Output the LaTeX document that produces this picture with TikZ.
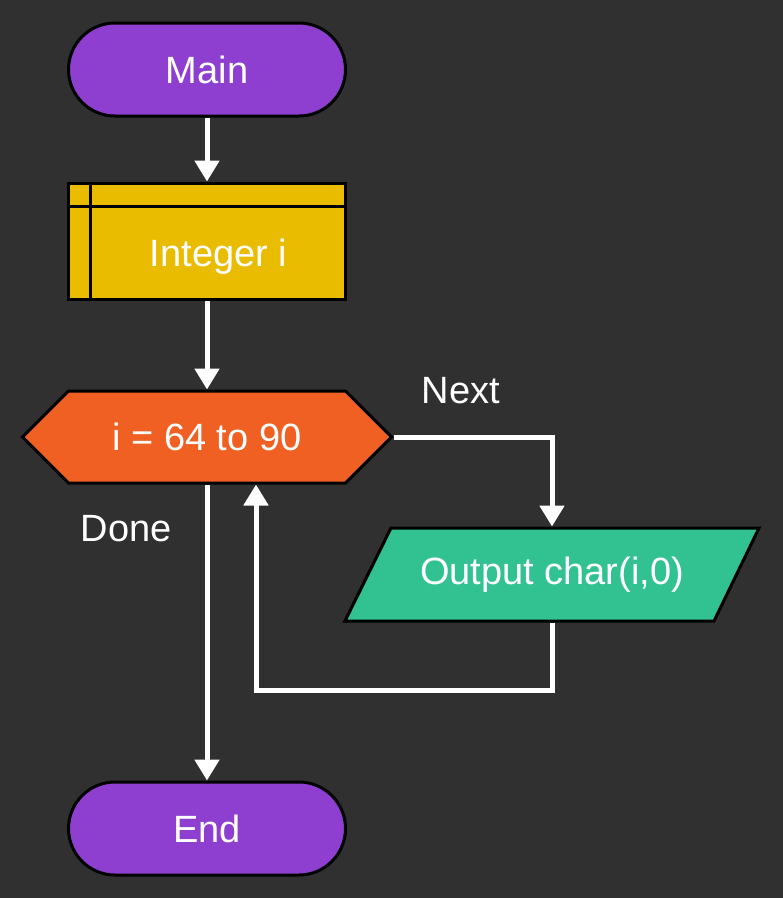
\documentclass[tikz,border=0pt]{standalone}
\usepackage{fontspec}
\setmainfont{Liberation Sans}
\usetikzlibrary{positioning, arrows.meta, shapes.misc, shapes.symbols, backgrounds}
\definecolor{bgcol}{HTML}{303030}
\definecolor{termcol}{HTML}{8E3FD0}
\definecolor{declcol}{HTML}{E9BC00}
\definecolor{loopcol}{HTML}{F06022}
\definecolor{outcol}{HTML}{32C191}
\tikzset{x=1pt, y=-1pt, % one unit is one pixel, y runs down
flow/.style={-{Triangle[length=21pt,width=24pt]}, draw=white, line width=5pt}, % white connectors
txt/.style={text=white, font=\fontsize{38}{46}\selectfont}, % all labels
box/.style={txt, draw=black, line width=3pt, inner sep=0pt, minimum width=277pt}, % common to the shapes
term/.style={box, rounded rectangle, fill=termcol, minimum height=93pt}, % Main and End
node distance=64pt, % gap between stacked shapes
}

\begin{document}
\begin{tikzpicture}
  \node[term] (main) at (207,69.5) {Main};
  \node[box, fill=declcol, minimum height=116pt, text height=50pt, text depth=0pt, below=of main] (decl) {\hspace*{23pt}Integer i};
  \node[box, fill=loopcol, signal, signal to=west and east, signal pointer angle=90,
        minimum width=369pt, minimum height=92pt, below=89pt of decl] (loop) {i = 64 to 90};
  \node[txt, inner sep=0pt, outer sep=1.5pt, minimum width=368pt, minimum height=93pt] (out) at (552,574.5) {Output char(i,0)};
  \node[term, below=296pt of loop] (fin) {End};
  \node[txt] (next) at (461,391) {Next};
  \node[txt] (done) at (126,529) {Done};
  \coordinate (back) at (256,690);

  \begin{scope}[on background layer]
    \fill[bgcol] (0,0) rectangle (783,898);
    % the output parallelogram
    \draw[fill=outcol, line width=3pt] ([shift={(-161,-46.5)}]out.center) -- ([shift={(207,-46.5)}]out.center)
          -- ([shift={(162,46.5)}]out.center) -- ([shift={(-207,46.5)}]out.center) -- cycle;
  \end{scope}

  % inner lines of the declaration box
  \draw[line width=3pt] ([yshift=-25pt]decl.north west) -- ([yshift=-25pt]decl.north east)
        ([xshift=23pt]decl.north west) -- ([xshift=23pt]decl.south west);

  \draw[flow] (main) -- (decl);
  \draw[flow] (decl.south) -- (loop.north);
  \draw[flow] (loop.east) -| (out.north);
  \draw[flow] (out.south) |- (back) -- (back |- loop.south);
  \draw[flow] (loop.south) -- (fin.north);
\end{tikzpicture}
\end{document}
